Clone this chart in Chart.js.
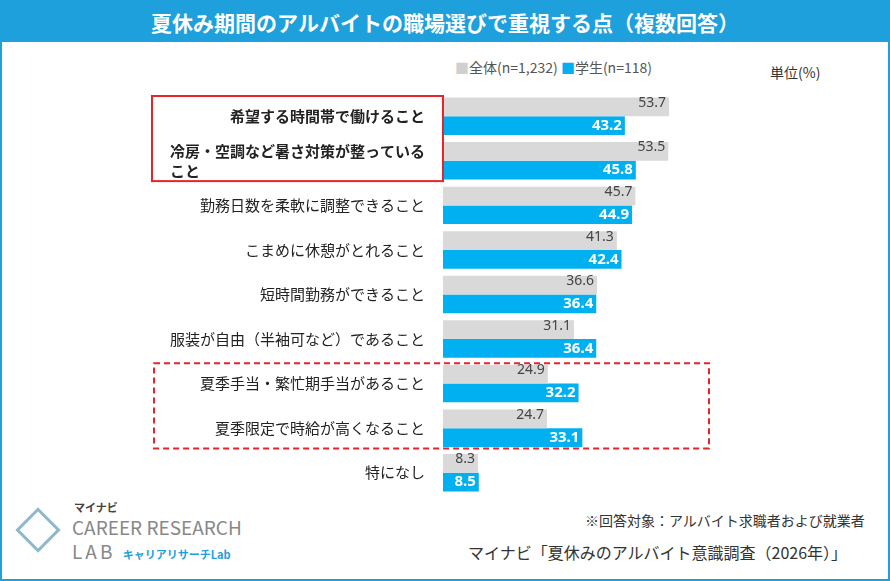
<!DOCTYPE html>
<html><head><meta charset="utf-8">
<script src="https://cdn.jsdelivr.net/npm/chart.js@4"></script>
<style>
body{margin:0;font-family:"Noto Sans CJK JP","Noto Sans",sans-serif;}
#wrap{position:relative;width:886px;height:577px;border:2px solid #1ea0dc;background:#fff;overflow:hidden}
#title{position:absolute;left:0;top:0;width:886px;height:40px;background:#1ea0dc;color:#fff;font-size:21px;font-weight:bold;text-align:center;line-height:40px}
.t{position:absolute;white-space:nowrap;color:#333}
canvas{position:absolute;left:0;top:0}
</style></head><body>
<div id="wrap">
<div id="title">夏休み期間のアルバイトの職場選びで重視する点（複数回答）</div>
<div class="t" style="left:453px;top:55px;font-size:14px;color:#555"><span style="color:#d0d0d0">■</span>全体(n=1,232) <span style="color:#00b0f0">■</span>学生(n=118)</div>
<div class="t" style="left:768px;top:60px;font-size:14px">単位(%)</div>
<div class="t" style="left:583px;top:508px;font-size:14px">※回答対象：アルバイト求職者および就業者</div>
<div class="t" style="left:466px;top:538px;font-size:16px">マイナビ「夏休みのアルバイト意識調査（2026年）」</div>
<div class="t" style="left:72px;top:497px;font-size:11px;font-weight:bold;color:#444">マイナビ</div>
<div class="t" style="left:70px;top:511px;font-size:19px;color:#888">CAREER RESEARCH</div>
<div class="t" style="left:70px;top:535px;font-size:19px;color:#888;letter-spacing:3px">LAB <span style="font-size:11px;letter-spacing:0;color:#1ea0dc;font-weight:bold">キャリアリサーチLab</span></div>
<div class="t" style="left:20px;top:512px;width:26px;height:26px;border:3px solid #8fb8cc;transform:rotate(45deg);"></div>
<canvas id="c" width="886" height="577"></canvas>
</div>
<script>
const categories = [
  ['希望する時間帯で働けること'],
  ['冷房・空調など暑さ対策が整っている', 'こと'],
  ['勤務日数を柔軟に調整できること'],
  ['こまめに休憩がとれること'],
  ['短時間勤務ができること'],
  ['服装が自由（半袖可など）であること'],
  ['夏季手当・繁忙期手当があること'],
  ['夏季限定で時給が高くなること'],
  ['特になし']
];
const allValues = [53.7, 53.5, 45.7, 41.3, 36.6, 31.1, 24.9, 24.7, 8.3];
const studentValues = [43.2, 45.8, 44.9, 42.4, 36.4, 36.4, 32.2, 33.1, 8.5];
const boldRows = [0, 1];

const overlay = {
  id: 'overlay',
  afterDraw(chart) {
    const ctx = chart.ctx, y = chart.scales.y;
    const step = y.getPixelForValue(1) - y.getPixelForValue(0);
    ctx.save();
    categories.forEach((lines, i) => {
      ctx.font = (boldRows.includes(i) ? 'bold ' : '') + '15px "Noto Sans CJK JP"';
      ctx.fillStyle = '#222';
      const cy = y.getPixelForValue(i);
      const w = Math.max(...lines.map(l => ctx.measureText(l).width));
      ctx.textBaseline = 'middle';
      ctx.textAlign = 'left';
      lines.forEach((l, k) => {
        ctx.fillText(l, 423 - w, cy + (k - (lines.length - 1) / 2) * 20);
      });
    });
    chart.data.datasets.forEach((ds, di) => {
      chart.getDatasetMeta(di).data.forEach((bar, i) => {
        ctx.textAlign = 'right';
        ctx.textBaseline = 'middle';
        ctx.font = di ? 'bold 15px "Noto Sans"' : '14px "Noto Sans"';
        ctx.fillStyle = di ? '#fff' : '#444';
        ctx.fillText(ds.data[i].toFixed(1), bar.x - 3, bar.y - (di ? 0 : 4));
      });
    });
    ctx.strokeStyle = '#e8232a';
    ctx.lineWidth = 2;
    ctx.strokeRect(150, y.getPixelForValue(0) - step / 2 + 2, 291, step * 2 - 4);
    ctx.setLineDash([6, 4]);
    ctx.strokeRect(152, y.getPixelForValue(6) - step / 2 + 2, 555, step * 2 - 4);
    ctx.restore();
  }
};

new Chart(document.getElementById('c'), {
  type: 'bar',
  data: {
    labels: categories,
    datasets: [
      { data: allValues, backgroundColor: '#d9d9d9', categoryPercentage: 0.84, barPercentage: 1 },
      { data: studentValues, backgroundColor: '#00b0f0', categoryPercentage: 0.84, barPercentage: 1 }
    ]
  },
  options: {
    indexAxis: 'y',
    responsive: false,
    animation: false,
    layout: { padding: { left: 441, right: 24, top: 92, bottom: 84 } },
    plugins: { legend: { display: false }, tooltip: { enabled: false } },
    scales: {
      x: { display: false, min: 0, max: 100 },
      y: { display: false }
    }
  },
  plugins: [overlay]
});
</script>
</body></html>
